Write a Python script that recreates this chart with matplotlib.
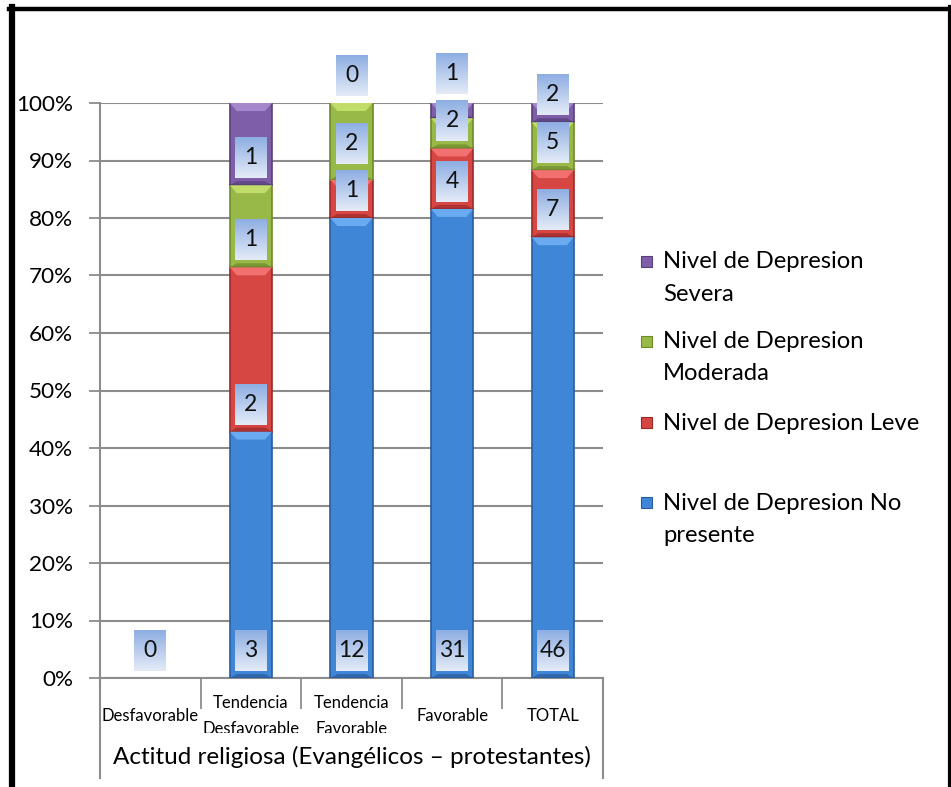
import numpy as np
import matplotlib
matplotlib.use('Agg')
import matplotlib.pyplot as plt
from matplotlib.patches import Rectangle, Polygon
from matplotlib.lines import Line2D

plt.rcParams['font.family'] = ['Lato', 'DejaVu Sans']

# ---- data ----
categories = ['Desfavorable', 'Tendencia\nDesfavorable', 'Tendencia\nFavorable',
              'Favorable', 'TOTAL']
series_names = ['Nivel de Depresion No presente', 'Nivel de Depresion Leve',
                'Nivel de Depresion Moderada', 'Nivel de Depresion Severa']
no_presente = [0, 3, 12, 31, 46]
leve = [0, 2, 1, 4, 7]
moderada = [0, 1, 2, 2, 5]
severa = [0, 1, 0, 1, 2]
axis_title = 'Actitud religiosa (Evangélicos – protestantes)'

# colours: main, light bevel, dark edge
COLS = [('#3F86D6', '#6AAAF0', '#2A5C9E'),
        ('#D64744', '#F27070', '#9A2A28'),
        ('#98B847', '#C2DC6A', '#6E8A2C'),
        ('#7E5EA8', '#A587CC', '#56407A')]
GRID = '#8C8C8C'

W, H = 951, 787
fig = plt.figure(figsize=(W / 100, H / 100), dpi=100)
fx = lambda px: px / W
fy = lambda py: 1 - py / H

ax = fig.add_axes([fx(100), fy(678), 503 / W, 575 / H])
ax.set_xlim(0, 5)
ax.set_ylim(0, 1)
PX = 1 / 575.0          # one pixel in y data units
PXX = 5 / 503.0         # one pixel in x data units

vals = np.array([no_presente, leve, moderada, severa], dtype=float)
tot = vals.sum(axis=0)
pct = np.divide(vals, tot, out=np.zeros_like(vals), where=tot > 0)
x = np.arange(len(categories)) + 0.5
bw = 0.42

bottom = np.zeros(len(categories))
for i in range(len(series_names)):
    c, lt, dk = COLS[i]
    lws = [1.2 if v > 0 else 0 for v in pct[i]]
    ax.bar(x, pct[i], bottom=bottom, width=bw, color=c, edgecolor=dk,
           linewidth=lws, zorder=3)
    # bevel highlight on top of each segment, darker band at bottom
    for j in range(len(x)):
        if pct[i][j] <= 0:
            continue
        top = bottom[j] + pct[i][j]
        l, r = x[j] - bw / 2, x[j] + bw / 2
        dy = min(8 * PX, pct[i][j] / 2)
        dx = 7 * PXX
        ax.add_patch(Polygon([(l, top), (r, top), (r - dx, top - dy), (l + dx, top - dy)],
                             closed=True, facecolor=lt, edgecolor='none', zorder=4))
        dyb = min(4 * PX, pct[i][j] / 3)
        ax.add_patch(Polygon([(l, bottom[j]), (r, bottom[j]), (r - dx, bottom[j] + dyb),
                              (l + dx, bottom[j] + dyb)],
                             closed=True, facecolor=dk, edgecolor='none', alpha=0.7, zorder=4))
    bottom = bottom + pct[i]

# ---- data labels (inside base, light gradient boxes) ----
grad = np.linspace(0, 1, 64).reshape(-1, 1)
top_c = np.array([0x8E, 0xAE, 0xE2]) / 255
bot_c = np.array([0xE4, 0xEB, 0xF7]) / 255
img = (top_c[None, None, :] * (1 - grad[..., None]) + bot_c[None, None, :] * grad[..., None])
bxw, bxh, gap = 32 * PXX, 41 * PX, 7 * PX
for j in range(len(x)):
    base = 0.0
    prev_top = -1
    for i in range(len(series_names)):
        if tot[j] == 0 and i > 0:
            break
        b = base + gap
        if b < prev_top + 6 * PX:
            b = prev_top + 6 * PX
        ax.imshow(img, extent=(x[j] - bxw / 2, x[j] + bxw / 2, b, b + bxh),
                  aspect='auto', zorder=5, clip_on=False)
        ax.text(x[j], b + bxh / 2, str(int(vals[i][j])), ha='center', va='center',
                fontsize=16.5, color='#111111', zorder=6, clip_on=False)
        prev_top = b + bxh
        base += pct[i][j]
ax.set_xlim(0, 5)
ax.set_ylim(0, 1)
ax.set_aspect('auto')

# ---- axes styling ----
ax.set_yticks(np.arange(0, 1.01, 0.1))
ax.set_yticklabels([f'{int(round(t * 100))}%' for t in np.arange(0, 1.01, 0.1)])
ax.yaxis.grid(True, color=GRID, linewidth=1.5, zorder=0)
ax.set_axisbelow(True)
ax.tick_params(axis='y', length=8, width=1.3, color=GRID, labelsize=16.2, pad=11.5)
for s in ['top', 'right']:
    ax.spines[s].set_visible(False)
for s in ['left', 'bottom']:
    ax.spines[s].set_color(GRID)
    ax.spines[s].set_linewidth(1.5)

ax.set_xticks(x)
ax.set_xticklabels([])
ax.tick_params(axis='x', length=0)
ax.set_xticks(np.arange(1, 5), minor=True)
ax.tick_params(axis='x', which='minor', length=22, width=1.3, color=GRID)
for xv in [0, 5]:
    ax.add_line(Line2D([xv, xv], [0, -100 * PX], color=GRID, lw=1.5,
                       transform=ax.transData, clip_on=False))
ax.add_line(Line2D([0, 0], [0, -8 * PX], color=GRID, lw=1.5, clip_on=False))

# category labels, clipped at bottom like the original
clip = Rectangle((0, fy(733)), 1, fy(680) - fy(733), transform=fig.transFigure)
for j, lab in enumerate(categories):
    t = ax.text(x[j], -38 * PX, lab, ha='center', va='center', fontsize=12,
                linespacing=1.75, transform=ax.transData, clip_on=True)
    t.set_clip_path(clip)
ax.text(2.5, -79 * PX, axis_title, ha='center', va='center', fontsize=17.5,
        transform=ax.transData, clip_on=False)

# ---- legend ----
leg = [(3, ['Nivel de Depresion', 'Severa'], 262),
       (2, ['Nivel de Depresion', 'Moderada'], 342),
       (1, ['Nivel de Depresion Leve'], 423),
       (0, ['Nivel de Depresion No', 'presente'], 503)]
for i, lines, yy in leg:
    c, lt, dk = COLS[i]
    fig.patches.append(Rectangle((fx(641), fy(yy + 5)), 11 / W, 11 / H, facecolor=c,
                                 edgecolor=dk, lw=0.8, transform=fig.transFigure))
    for k, s in enumerate(lines):
        fig.text(fx(663), fy(yy + 32 * k), s, ha='left', va='center', fontsize=17.2)

# ---- black frame ----
fig.add_artist(Line2D([fx(12), fx(12)], [0, fy(7)], color='black', lw=4.5,
                      transform=fig.transFigure))
fig.add_artist(Line2D([fx(9), 1], [fy(9), fy(9)], color='black', lw=3.2,
                      transform=fig.transFigure))
fig.add_artist(Line2D([fx(949.5), fx(949.5)], [0, fy(7)], color='black', lw=3,
                      transform=fig.transFigure))

fig.savefig('out.png', dpi=100)
